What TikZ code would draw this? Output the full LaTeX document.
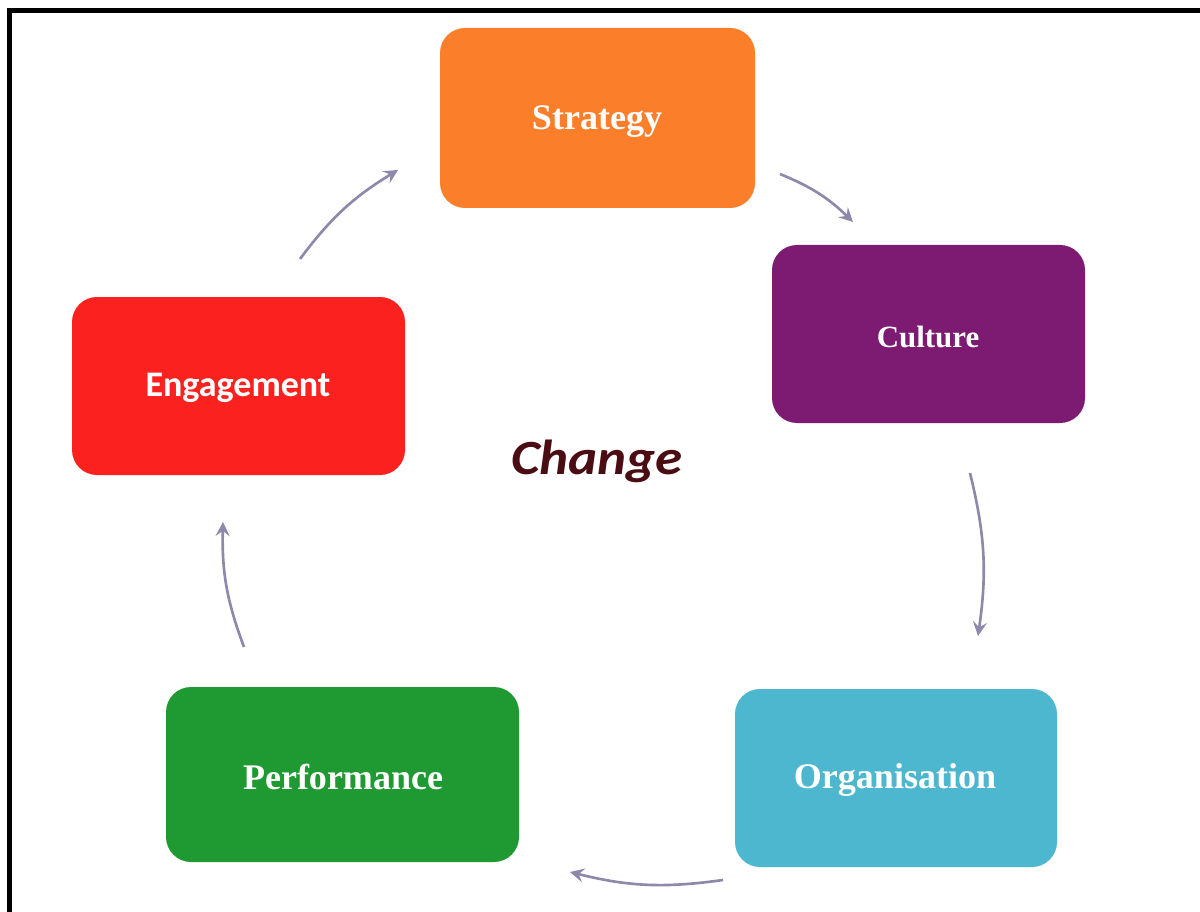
\documentclass[tikz,border=0pt]{standalone}
\usepackage{fontspec}
\setmainfont{Liberation Serif}
\newfontfamily\carlito{Carlito}
\usetikzlibrary{arrows.meta}
\definecolor{cStrat}{HTML}{FB7E2B}
\definecolor{cCult}{HTML}{7D1A72}
\definecolor{cEng}{HTML}{FB211E}
\definecolor{cPerf}{HTML}{1F9A33}
\definecolor{cOrg}{HTML}{4EB7D0}
\definecolor{cChange}{HTML}{4A0D14}
\definecolor{cArrow}{HTML}{8C89AA}
\tikzset{
  boxtext/.style={text=white, font=\bfseries\fontsize{20.5}{24}\selectfont},
  cyc/.style={draw=cArrow, line width=1.5pt, -{Stealth[length=8pt,width=8pt,inset=3pt]}, bend left=11},
}
\begin{document}
\begin{tikzpicture}[x=0.02cm,y=-0.02cm]
\useasboundingbox (0,0) rectangle (1200,912);
\fill[white] (0,0) rectangle (1200,912);
% frame
\draw[line width=0.1cm] (9.5,912) -- (9.5,10.5) -- (1200,10.5);
% boxes
\fill[cStrat, rounded corners=0.5cm] (440,28) rectangle (755,208);
\node[boxtext] (strat) at (597,122) {Strategy};
\fill[cCult, rounded corners=0.5cm] (772,245) rectangle (1085,423);
\node[boxtext, font=\bfseries\fontsize{17.6}{21}\selectfont] (cult) at (928,337) {Culture};
\fill[cEng, rounded corners=0.5cm] (72,297) rectangle (405,475);
\node[boxtext, font=\carlito\bfseries\fontsize{20.5}{24}\selectfont] (eng) at (238,388) {Engagement};
\fill[cPerf, rounded corners=0.5cm] (166,687) rectangle (519,862);
\node[boxtext] (perf) at (343,777) {Performance};
\fill[cOrg, rounded corners=0.5cm] (735,689) rectangle (1057,867);
\node[boxtext] (org) at (895,780) {Organisation};
% centre text
\node[text=cChange, xscale=1.12, font=\carlito\bfseries\itshape\fontsize{28}{32}\selectfont] (change) at (597,461) {Change};
% arrow end points
\coordinate (a1s) at (300,259); \coordinate (a1e) at (398,170);
\coordinate (a2s) at (780,174); \coordinate (a2e) at (853,222);
\coordinate (a3s) at (970,473); \coordinate (a3e) at (978,636);
\coordinate (a4s) at (723,880); \coordinate (a4e) at (570,872);
\coordinate (a5s) at (244,647); \coordinate (a5e) at (223,522);
\draw[cyc] (a1s) to (a1e);
\draw[cyc] (a2s) to (a2e);
\draw[cyc] (a3s) to (a3e);
\draw[cyc] (a4s) to (a4e);
\draw[cyc] (a5s) to (a5e);
\end{tikzpicture}
\end{document}
